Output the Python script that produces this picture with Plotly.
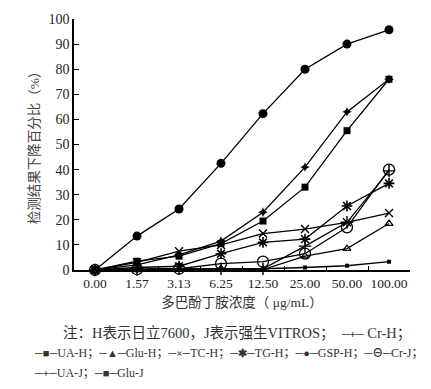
import plotly.graph_objects as go

categories = ["0.00", "1.57", "3.13", "6.25", "12.50", "25.00", "50.00", "100.00"]
y_ticks = [0, 10, 20, 30, 40, 50, 60, 70, 80, 90, 100]

cr_h = [0, 2.0, 6.0, 11.5, 23.0, 41.0, 63.0, 76.0]
ua_h = [0, 3.5, 5.5, 10.5, 19.5, 33.0, 55.5, 76.0]
glu_h = [0, 0, 0.3, 0.5, 0.2, 5.5, 8.5, 18.5]
tc_h = [0, 3.0, 7.5, 10.0, 14.5, 16.3, 19.0, 22.7]
tg_h = [0, 1.0, 1.5, 6.5, 11.0, 12.3, 25.5, 34.5]
gsp_h = [0, 13.5, 24.3, 42.5, 62.3, 80.0, 90.0, 95.7]
cr_j = [0, 0.3, 0.5, 2.5, 3.3, 6.5, 17.0, 40.0]
ua_j = [0, 0.3, 0.5, 0.5, 0.5, 9.5, 19.0, 39.5]
glu_j = [0, 0, 0.3, 0.5, 0.5, 1.0, 1.7, 3.3]

series = [
    ("Cr-H", cr_h, dict(symbol="star-diamond", size=7, color="black")),
    ("UA-H", ua_h, dict(symbol="square", size=7, color="black")),
    ("Glu-H", glu_h, dict(symbol="triangle-up-open", size=7, color="black", line=dict(width=1.2, color="black"))),
    ("TC-H", tc_h, dict(symbol="x-thin-open", size=8, color="black", line=dict(width=1.4, color="black"))),
    ("TG-H", tg_h, dict(symbol="asterisk-open", size=9, color="black", line=dict(width=1.6, color="black"))),
    ("GSP-H", gsp_h, dict(symbol="circle", size=9, color="black")),
    ("Cr-J", cr_j, dict(symbol="circle-open", size=11, color="black", line=dict(width=1.3, color="black"))),
    ("UA-J", ua_j, dict(symbol="cross-thin-open", size=9, color="black", line=dict(width=1.4, color="black"))),
    ("Glu-J", glu_j, dict(symbol="square", size=4, color="black")),
]

FONT = "Liberation Serif, 'Times New Roman', 'Noto Sans CJK SC', serif"

fig = go.Figure()
for name, vals, mk in series:
    fig.add_trace(go.Scatter(
        x=categories, y=vals, name=name, mode="lines+markers",
        line=dict(color="black", width=1.3), marker=mk,
        cliponaxis=False, showlegend=False,
    ))

L, R, T, B = 74, 21, 19, 119
W, H = 431, 389
pw, ph = W - L - R, H - T - B

def px(xp):
    return (xp - L) / pw

def py(yp):
    return (H - B - yp) / ph

fig.update_layout(
    width=W, height=H,
    margin=dict(l=L, r=R, t=T, b=B),
    paper_bgcolor="white", plot_bgcolor="white",
    font=dict(family=FONT, color="#222", size=14),
)
fig.update_xaxes(
    type="category", range=[-0.5, 7.5], automargin=False,
    showline=True, linecolor="black", linewidth=1.5,
    ticks="inside", tickson="boundaries", ticklen=4, tickcolor="black",
    showgrid=False, zeroline=False, tickangle=0,
    tickfont=dict(size=13.5, family=FONT, color="#222"),
    title=dict(text="多巴酚丁胺浓度（ μg/mL）", font=dict(size=13.5, family=FONT, color="#333"), standoff=8),
)
fig.update_yaxes(
    range=[0, 100], tickvals=y_ticks, automargin=False,
    showline=True, linecolor="black", linewidth=1.5,
    ticks="inside", ticklen=5, tickcolor="black",
    showgrid=False, zeroline=False,
    tickfont=dict(size=14, family=FONT, color="#222"),
    title=dict(text="检测结果下降百分比（%）", font=dict(size=13.5, family=FONT, color="#444"), standoff=6),
)

def g(sym):
    return '<span style="font-size:11px"><b>─%s─</b></span>' % sym

rows = [
    (62, 333, 14.5, "注：H表示日立7600，J表示强生VITROS；  " + g("+") + " Cr-H；"),
    (33, 353, 12, g("■") + "UA-H；" + g("▲") + "Glu-H；" + g("×") + "TC-H；" + g("✱") + "TG-H；" + g("●") + "GSP-H；" + g("⊖") + "Cr-J；"),
    (33, 373, 12, g("+") + "UA-J；" + g("■") + "Glu-J"),
]
for xp, yp, fs, txt in rows:
    fig.add_annotation(
        x=px(xp), y=py(yp), xref="paper", yref="paper",
        xanchor="left", yanchor="middle", showarrow=False,
        text=txt, font=dict(size=fs, family=FONT, color="#333"), borderpad=0,
    )

fig.write_html("out.html", config={"displayModeBar": False},
               post_script="document.body.style.margin='0';")
